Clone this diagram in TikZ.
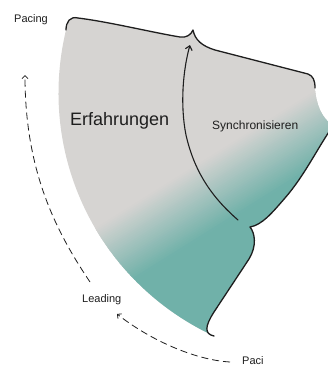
\documentclass[tikz,border=0pt]{standalone}
\usepackage{fontspec}
\setmainfont{Liberation Sans}
\usetikzlibrary{arrows.meta}
\definecolor{fangray}{HTML}{D6D4D2}
\definecolor{fanteal}{HTML}{70B1A9}
\definecolor{ink}{HTML}{1E1E1E}
\begin{document}
\begin{tikzpicture}[x=1pt,y=-1pt,
  edge/.style={draw=ink, line width=1.3pt, line cap=round, line join=round},
  arrowline/.style={draw=ink, line width=1.1pt, line cap=round, -{Straight Barb[length=4pt,width=7pt]}},
  dashedarrow/.style={draw=ink, line width=0.8pt, dash pattern=on 7pt off 4pt, -{Straight Barb[length=3pt,width=6pt]}},
  lbl/.style={font=\fontsize{11}{13}\selectfont, text=ink, inner sep=0pt, anchor=base west},
  biglbl/.style={font=\fontsize{18}{21}\selectfont, text=ink, inner sep=0pt, anchor=base west},
  midlbl/.style={font=\fontsize{12}{14}\selectfont, text=ink, inner sep=0pt, anchor=base west}]
\useasboundingbox (0,0) rectangle (328,365);
\begin{scope}
\clip (0,0) rectangle (328,365);
% ---- fan fill with gradient ----
\begin{scope}
\clip (66,30) .. controls (66,22) and (70,16) .. (78,18)
  .. controls (110,22) and (150,32) .. (180,37)
  .. controls (186,38) and (191,35) .. (193,30)
  .. controls (195,40) and (202,46) .. (215,50)
  -- (308,74) .. controls (313,76) and (315,80) .. (315,88)
  .. controls (316,105) and (322,118) .. (333,126)
  .. controls (318,147) and (305,175) .. (285,198)
  .. controls (272,213) and (262,225) .. (250,227)
  .. controls (255,233) and (257,246) .. (249,259)
  -- (214,312) .. controls (205,326) and (204,334) .. (214,336)
  .. controls (98,282) and (36,155) .. (66,30) -- cycle;
\fill[fangray] (-10,-10) rectangle (340,380);
% teal beyond the band
\pgfmathsetmacro{\ax}{208+64*0.53-400*0.848}
\pgfmathsetmacro{\ay}{157.9+64*0.848+400*0.53}
\pgfmathsetmacro{\bx}{208+64*0.53+400*0.848}
\pgfmathsetmacro{\by}{157.9+64*0.848-400*0.53}
\pgfmathsetmacro{\cx}{208+600*0.53+400*0.848}
\pgfmathsetmacro{\cy}{157.9+600*0.848-400*0.53}
\pgfmathsetmacro{\dx}{208+600*0.53-400*0.848}
\pgfmathsetmacro{\dy}{157.9+600*0.848+400*0.53}
\fill[fanteal] (\ax,\ay) -- (\bx,\by) -- (\cx,\cy) -- (\dx,\dy) -- cycle;
\foreach \i in {0,...,31}{
  \pgfmathsetmacro{\sa}{\i*2}
  \pgfmathsetmacro{\sb}{\i*2+2.6}
  \pgfmathsetmacro{\pc}{(\i+0.5)*100/32}
  \pgfmathsetmacro{\ax}{208+\sa*0.53-400*0.848}
  \pgfmathsetmacro{\ay}{157.9+\sa*0.848+400*0.53}
  \pgfmathsetmacro{\bx}{208+\sa*0.53+400*0.848}
  \pgfmathsetmacro{\by}{157.9+\sa*0.848-400*0.53}
  \pgfmathsetmacro{\cx}{208+\sb*0.53+400*0.848}
  \pgfmathsetmacro{\cy}{157.9+\sb*0.848-400*0.53}
  \pgfmathsetmacro{\dx}{208+\sb*0.53-400*0.848}
  \pgfmathsetmacro{\dy}{157.9+\sb*0.848+400*0.53}
  \fill[fanteal!\pc!fangray] (\ax,\ay) -- (\bx,\by) -- (\cx,\cy) -- (\dx,\dy) -- cycle;
}
\end{scope}
% ---- outline strokes ----
\draw[edge] (66,30) .. controls (66,22) and (70,16) .. (78,18)
  .. controls (110,22) and (150,32) .. (180,37)
  .. controls (186,38) and (191,35) .. (193,30)
  .. controls (195,40) and (202,46) .. (215,50)
  -- (308,74) .. controls (313,76) and (315,80) .. (315,88);
\draw[edge] (333,126) .. controls (318,147) and (305,175) .. (285,198)
  .. controls (272,213) and (262,225) .. (250,227)
  .. controls (255,233) and (257,246) .. (249,259)
  -- (214,312) .. controls (205,326) and (204,334) .. (214,336);
% ---- inner arrow ----
\coordinate (inA) at (238,220);
\coordinate (inB) at (190,45);
\draw[arrowline] (inA) .. controls (215,200) and (195,175) .. (186,135)
  .. controls (180,105) and (183,70) .. (inB);
% ---- dashed arrows ----
\coordinate (dA1) at (90,282);
\coordinate (dA2) at (25,75);
\draw[dashedarrow] (dA1) .. controls (55,230) and (25,170) .. (dA2);
\coordinate (dB1) at (230,362);
\coordinate (dB2) at (117,314);
\draw[dashedarrow] (dB1) .. controls (195,360) and (150,340) .. (dB2);
% ---- labels ----
\node[lbl] (pacingTop) at (14,22) {Pacing};
\node[lbl] (leading) at (82,302) {Leading};
\node[biglbl] (erf) at (70,125) {Erfahrungen};
\node[midlbl] (sync) at (212,129) {Synchronisieren};
\begin{scope}
\clip (236,340) rectangle (262.5,366);
\node[lbl] (pacingBottom) at (242,364) {Pacing};
\end{scope}
\end{scope}
\end{tikzpicture}
\end{document}
